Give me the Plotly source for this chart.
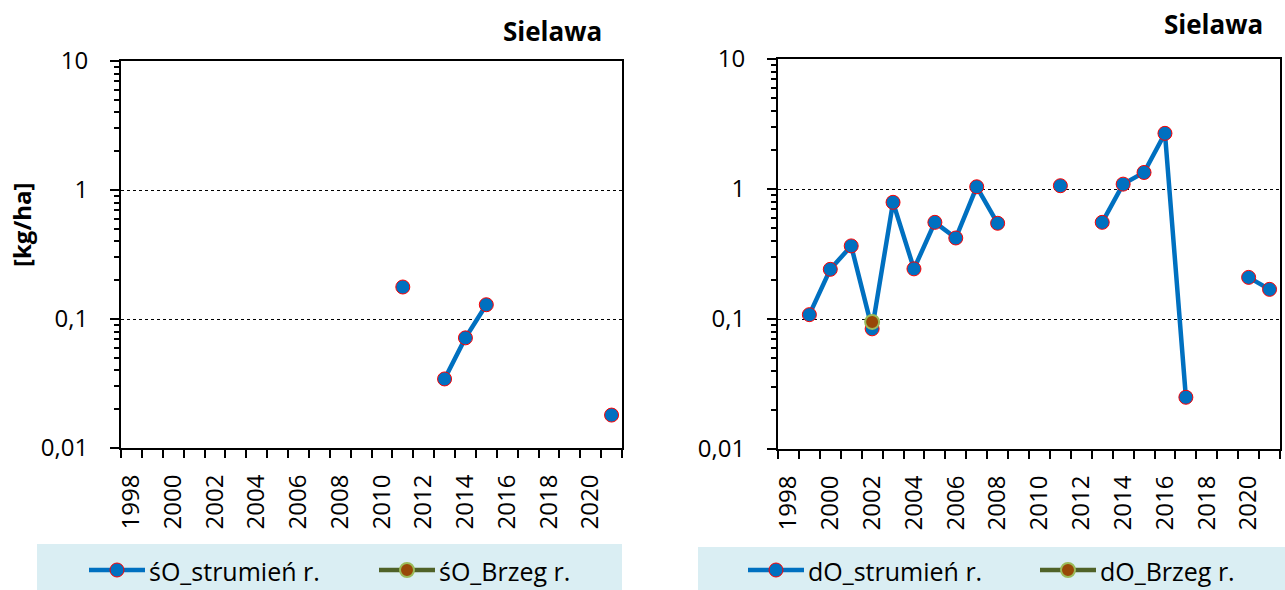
import plotly.graph_objects as go

years = list(range(1998, 2022))

so_strumien = [None]*13 + [0.177, None, 0.0343, 0.0714, 0.129, None, None, None, None, None, 0.018]
so_brzeg = [None]*24

do_strumien = [None, 0.108, 0.241, 0.365, 0.084, 0.79, 0.243, 0.554, 0.42, 1.04, 0.545,
               None, None, 1.06, None, 0.554, 1.09, 1.34, 2.68, 0.025, None, None, 0.209, 0.169]
do_brzeg = [None]*4 + [0.095] + [None]*19

title_text = "Sielawa"
ytitle = "[kg/ha]"
ytickvals = [0.01, 0.1, 1, 10]
yticktext = ["0,01", "0,1", "1", "10"]
xtickvals = list(range(1998, 2022, 2))
names_left = ["śO_strumień r.", "śO_Brzeg r."]
names_right = ["dO_strumień r.", "dO_Brzeg r."]

BLUE = "#0070C0"
RED = "#FF0000"
OLIVE = "#4F6228"
BROWN = "#984807"
LGREEN = "#9BBB59"
FONT = "Open Sans"

W, H = 1285, 590

fig = go.Figure()

STYLES = [
    dict(line=BLUE, fill=BLUE, edge=RED, edgew=1),
    dict(line=OLIVE, fill=BROWN, edge=LGREEN, edgew=2),
]

def add_pair(strum, brzeg, names, xa, ya):
    for vals, name, st in zip((strum, brzeg), names, STYLES):
        fig.add_trace(go.Scatter(
            x=years, y=vals, name=name, mode="lines+markers", showlegend=False,
            line=dict(color=st["line"], width=4.5), connectgaps=False,
            marker=dict(size=14, color=st["fill"], line=dict(color=st["edge"], width=st["edgew"])),
            xaxis=xa, yaxis=ya))

add_pair(so_strumien, so_brzeg, names_left, "x", "y")
add_pair(do_strumien, do_brzeg, names_right, "x2", "y2")

minor_y = [m * d for d in (0.01, 0.1, 1) for m in range(2, 10)]

def xaxis(domain, anchor):
    return dict(domain=domain, anchor=anchor, range=[1997.5, 2021.5], automargin=False,
                tickmode="array", tickvals=xtickvals, ticktext=[str(v) for v in xtickvals],
                tickangle=-90, ticks="", showgrid=False, zeroline=False, ticklabelstandoff=15,
                showline=True, linecolor="black", linewidth=2, mirror=True,
                tickfont=dict(family=FONT, size=24, color="black"),
                minor=dict(ticks="outside", tick0=1997.5, dtick=1, ticklen=8,
                           tickwidth=2, tickcolor="black", showgrid=False))

def yaxis(domain, anchor):
    return dict(domain=domain, anchor=anchor, type="log", range=[-2, 1], automargin=False,
                tickmode="array", tickvals=ytickvals, ticktext=yticktext,
                ticks="outside", ticklen=9, tickwidth=2, tickcolor="black", ticklabelstandoff=17,
                showgrid=True, gridcolor="black", gridwidth=1, griddash="dot",
                zeroline=False, showline=True, linecolor="black", linewidth=2, mirror=True,
                tickfont=dict(family=FONT, size=24, color="black"),
                minor=dict(ticks="outside", tickvals=minor_y, ticklen=5, tickwidth=2,
                           tickcolor="black", showgrid=False))

def px(x):
    return x / W

def py(y):
    return (H - y) / H

shapes = [
    dict(type="rect", xref="paper", yref="paper", x0=px(37), x1=px(622), y0=0, y1=py(544),
         fillcolor="#DAEEF3", line=dict(width=0), layer="below"),
    dict(type="rect", xref="paper", yref="paper", x0=px(698), x1=1, y0=0, y1=py(547),
         fillcolor="#DAEEF3", line=dict(width=0), layer="below"),
]
annotations = [
    dict(text=f"<b>{title_text}</b>", x=px(552), y=py(31), xref="paper", yref="paper",
         xanchor="center", yanchor="middle", showarrow=False,
         font=dict(family=FONT, size=26, color="black")),
    dict(text=f"<b>{title_text}</b>", x=px(1213), y=py(24), xref="paper", yref="paper",
         xanchor="center", yanchor="middle", showarrow=False,
         font=dict(family=FONT, size=26, color="black")),
    dict(text=f"<b>{ytitle}</b>", x=px(21), y=py(225), xref="paper", yref="paper",
         xanchor="center", yanchor="middle", showarrow=False, textangle=-90,
         font=dict(family=FONT, size=24, color="black")),
]

# custom legend: (line start px, name, style)
LEG_Y = 570
legend_entries = [
    (89, names_left[0], STYLES[0]), (379, names_left[1], STYLES[1]),
    (748, names_right[0], STYLES[0]), (1040, names_right[1], STYLES[1]),
]
for x0, name, st in legend_entries:
    shapes.append(dict(type="line", xref="paper", yref="paper", x0=px(x0), x1=px(x0 + 56),
                       y0=py(LEG_Y), y1=py(LEG_Y), line=dict(color=st["line"], width=4.5)))
    xm = x0 + 28
    r = 7
    shapes.append(dict(type="circle", xref="paper", yref="paper", x0=px(xm - r), x1=px(xm + r),
                       y0=py(LEG_Y + r), y1=py(LEG_Y - r), fillcolor=st["fill"],
                       line=dict(color=st["edge"], width=st["edgew"])))
    annotations.append(dict(text=name, x=px(x0 + 58), y=py(LEG_Y + 1), xref="paper", yref="paper",
                            xanchor="left", yanchor="middle", showarrow=False,
                            font=dict(family=FONT, size=25, color="black")))

fig.update_layout(
    width=W, height=H, margin=dict(l=0, r=0, t=0, b=0, autoexpand=False),
    paper_bgcolor="white", plot_bgcolor="white", showlegend=False,
    font=dict(family=FONT, color="black"),
    xaxis=xaxis([px(121), px(622)], "y"),
    yaxis=yaxis([py(448), py(61)], "x"),
    xaxis2=xaxis([px(778), px(1280)], "y2"),
    yaxis2=yaxis([py(449), py(59)], "x2"),
    shapes=shapes,
    annotations=annotations,
)

fig.write_html("out.html", config={"displayModeBar": False},
               post_script="document.body.style.margin='0';document.body.style.overflow='hidden';")
